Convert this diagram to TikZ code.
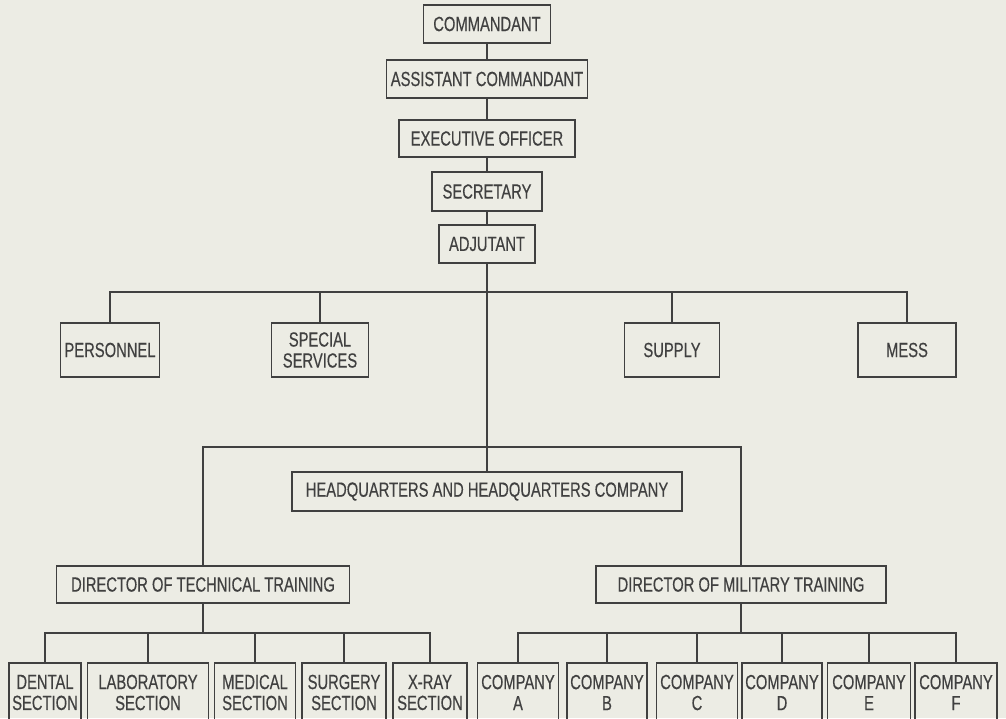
\documentclass[tikz,border=0pt]{standalone}
\usepackage{fontspec}
\newfontfamily\chartfont[FakeStretch=0.72,FakeBold=0.4]{Liberation Sans}
\definecolor{paper}{RGB}{236,236,228}
\definecolor{ink}{RGB}{64,64,64}

\begin{document}
\begin{tikzpicture}[x=1pt,y=-1pt,
  unit/.style={draw=ink,line width=1.2pt,inner sep=0pt,align=center,text=ink,
    font=\chartfont\fontsize{20.5}{21}\selectfont},
  section/.style={unit,minimum height=59pt},
  link/.style={draw=ink,line width=1.2pt}]
  \fill[paper] (0,0) rectangle (1006,718);
  \useasboundingbox (0,0) rectangle (1006,718);

  % command column
  \node[unit,minimum width=127pt,minimum height=38pt] (cmd) at (487,24) {COMMANDANT};
  \node[unit,minimum width=201pt,minimum height=38pt] (asst) at (487,79) {ASSISTANT COMMANDANT};
  \node[unit,minimum width=176pt,minimum height=37pt] (exec) at (487,138.5) {EXECUTIVE OFFICER};
  \node[unit,minimum width=110pt,minimum height=39pt] (sec) at (487,191.5) {SECRETARY};
  \node[unit,minimum width=96pt,minimum height=38pt] (adj) at (487,244) {ADJUTANT};

  % staff sections
  \node[unit,minimum width=99pt,minimum height=54pt] (pers) at (110,350) {PERSONNEL};
  \node[unit,minimum width=97pt,minimum height=54pt] (spec) at (320,350) {SPECIAL\\SERVICES};
  \node[unit,minimum width=95pt,minimum height=54pt] (supply) at (672,350) {SUPPLY};
  \node[unit,minimum width=98pt,minimum height=54pt] (mess) at (907,350) {MESS};

  \node[unit,minimum width=390pt,minimum height=39pt] (hq) at (487,491.5) {HEADQUARTERS AND HEADQUARTERS COMPANY};

  % directors
  \node[unit,minimum width=293pt,minimum height=37pt] (dtt) at (203,584.5) {DIRECTOR OF TECHNICAL TRAINING};
  \node[unit,minimum width=290pt,minimum height=37pt] (dmt) at (741,584.5) {DIRECTOR OF MILITARY TRAINING};

  % technical sections
  \node[section,minimum width=72pt] (dental) at (45,692.5) {DENTAL\\SECTION};
  \node[section,minimum width=121pt] (lab) at (148,692.5) {LABORATORY\\SECTION};
  \node[section,minimum width=81pt] (med) at (255,692.5) {MEDICAL\\SECTION};
  \node[section,minimum width=84pt] (surg) at (344,692.5) {SURGERY\\SECTION};
  \node[section,minimum width=74pt] (xray) at (430,692.5) {X-RAY\\SECTION};

  % companies
  \node[section,minimum width=81pt] (coa) at (518,692.5) {COMPANY\\A};
  \node[section,minimum width=80pt] (cob) at (607,692.5) {COMPANY\\B};
  \node[section,minimum width=81pt] (coc) at (697,692.5) {COMPANY\\C};
  \node[section,minimum width=80pt] (cod) at (782,692.5) {COMPANY\\D};
  \node[section,minimum width=83pt] (coe) at (869,692.5) {COMPANY\\E};
  \node[section,minimum width=82pt] (cof) at (956,692.5) {COMPANY\\F};

  \coordinate (staffbar) at (487,292);
  \coordinate (hqbar) at (487,447);
  \coordinate (techbar) at (203,633);
  \coordinate (milbar) at (741,633);

  \draw[link] (cmd) -- (asst);
  \draw[link] (asst) -- (exec);
  \draw[link] (exec) -- (sec);
  \draw[link] (sec) -- (adj);
  \draw[link] (adj) -- (hq);

  \draw[link] (pers.north) |- (staffbar) -| (mess.north);
  \draw[link] (spec.north) -- (spec.north |- staffbar);
  \draw[link] (supply.north) -- (supply.north |- staffbar);

  \draw[link] (dtt.north) |- (hqbar) -| (dmt.north);

  \draw[link] (dtt) -- (techbar);
  \draw[link] (dental.north) |- (techbar) -| (xray.north);
  \foreach \n in {lab,med,surg}
    \draw[link] (\n.north) -- (\n.north |- techbar);

  \draw[link] (dmt) -- (milbar);
  \draw[link] (coa.north) |- (milbar) -| (cof.north);
  \foreach \n in {cob,coc,cod,coe}
    \draw[link] (\n.north) -- (\n.north |- milbar);
\end{tikzpicture}
\end{document}
